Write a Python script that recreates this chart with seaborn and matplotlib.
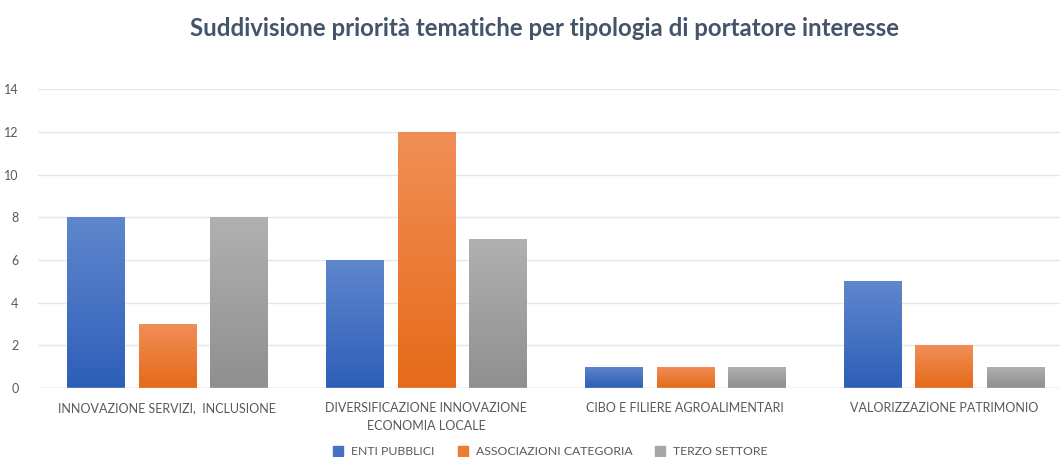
import numpy as np
import pandas as pd
import matplotlib
matplotlib.use("Agg")
import matplotlib.pyplot as plt
import seaborn as sns
from matplotlib.colors import LinearSegmentedColormap

categories = ["INNOVAZIONE SERVIZI,  INCLUSIONE",
              "DIVERSIFICAZIONE INNOVAZIONE\nECONOMIA LOCALE",
              "CIBO E FILIERE AGROALIMENTARI",
              "VALORIZZAZIONE PATRIMONIO"]
series = ["ENTI PUBBLICI", "ASSOCIAZIONI CATEGORIA", "TERZO SETTORE"]
enti_pubblici = [8, 6, 1, 5]
associazioni_categoria = [3, 12, 1, 2]
terzo_settore = [8, 7, 1, 1]
yticks = [0, 2, 4, 6, 8, 10, 12, 14]

title = "Suddivisione priorità tematiche per tipologia di portatore interesse"

df = pd.DataFrame({
    "categoria": categories * 3,
    "serie": [series[0]] * 4 + [series[1]] * 4 + [series[2]] * 4,
    "valore": enti_pubblici + associazioni_categoria + terzo_settore,
})

sns.set_theme(style="white")
plt.rcParams["font.family"] = ["Lato", "DejaVu Sans"]

base_colors = ["#4472C4", "#ED7D31", "#A5A5A5"]
grad = {
    series[0]: ("#5F87CD", "#2E5EB8"),
    series[1]: ("#F18F57", "#E66A19"),
    series[2]: ("#B1B1B1", "#8F8F8F"),
}

fig = plt.figure(figsize=(10.6, 4.57), dpi=100)
# the original chart is slightly cropped on the right
ax = fig.add_axes([0.0358, 0.151, 0.977, 0.654])

sns.barplot(data=df, x="categoria", y="valore", hue="serie", order=categories,
            hue_order=series, palette=base_colors, width=0.83, gap=0.2,
            ax=ax, legend=False, saturation=1, zorder=2)

ax.set_ylim(0, 14)
ax.set_xlim(-0.5, 3.5)
ax.set_yticks(yticks)
ax.yaxis.grid(True, color="#E4E7EC", linewidth=1, zorder=0)
ax.set_axisbelow(True)
for s in ax.spines.values():
    s.set_visible(False)
ax.axhline(0, color="#D9D9D9", linewidth=1, zorder=5)

# gradient fills
n = len(categories)
for i, patch in enumerate(ax.patches[:3 * n]):
    ser = series[i // n]
    top_c, bot_c = grad[ser]
    cmap = LinearSegmentedColormap.from_list("g", [bot_c, top_c])
    x0 = patch.get_x()
    w = patch.get_width()
    h = patch.get_height()
    img = np.linspace(0, 1, 256).reshape(-1, 1)
    im = ax.imshow(img, cmap=cmap, origin="lower", aspect="auto",
                   extent=(x0, x0 + w, 0, h), zorder=3)
    im.set_clip_path(patch)
    patch.set_facecolor("none")
    patch.set_edgecolor("none")
ax.set_xlim(-0.5, 3.5)
ax.set_ylim(0, 14)

ax.set_xlabel("")
ax.set_ylabel("")
ax.tick_params(axis="both", length=0, labelsize=9, labelcolor="#595959")
ax.tick_params(axis="x", pad=10)
ax.tick_params(axis="y", pad=14)
for lbl in ax.get_xticklabels():
    lbl.set_linespacing(1.6)

fig.text(0.514, 0.938, title, ha="center", va="center", fontsize=17.3,
         fontweight="bold", color="#44546A")

handles = [plt.Line2D([0], [0], marker="s", linestyle="none", markersize=6.5,
                      markerfacecolor=c, markeredgecolor=c) for c in base_colors]
leg = fig.legend(handles, series, loc="center", bbox_to_anchor=(0.516, 0.012),
                 ncol=3, frameon=False, fontsize=8.8, handletextpad=0.05,
                 columnspacing=1.3, labelcolor="#595959")

fig.savefig("out.png", dpi=100)
